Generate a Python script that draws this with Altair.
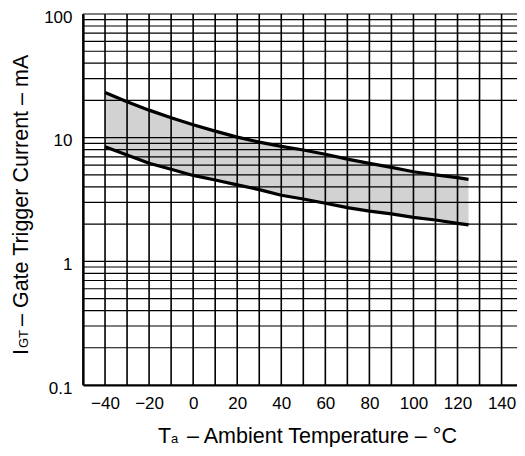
import altair as alt
import pandas as pd

# ---- data ----
temps = [-40, -30, -20, -10, 0, 10, 20, 30, 40, 50, 60, 70, 80, 90, 100, 110, 120, 125]
igt_max = [23.2, 19.5, 16.7, 14.5, 12.7, 11.3, 10.1, 9.2, 8.5, 7.95, 7.35, 6.7, 6.2, 5.75, 5.3, 5.0, 4.75, 4.6]
igt_min = [8.45, 7.25, 6.2, 5.55, 4.95, 4.55, 4.15, 3.8, 3.42, 3.19, 2.95, 2.72, 2.55, 2.42, 2.27, 2.16, 2.03, 1.97]

x_grid = list(range(-50, 150, 10))
x_label_values = [-40, -20, 0, 20, 40, 60, 80, 100, 120, 140]
y_decades = [0.1, 1, 10, 100]
y_label_texts = ["0.1", "1", "10", "100"]
y_grid = [round(d * m, 4) for d in [0.1, 1, 10] for m in range(1, 10)] + [100]
x_domain = [-50, 147]
y_domain = [0.1, 100]

x_title_main, x_title_sub, x_title_rest = "T", "a", "– Ambient Temperature – °C"
y_title_main, y_title_sub, y_title_rest = "I", "GT", "– Gate Trigger Current – mA"

W, H = 434, 371

df = pd.DataFrame({"t": temps, "hi": igt_max, "lo": igt_min})
xg = pd.DataFrame({"t": x_grid})
yg = pd.DataFrame({"hi": y_grid})

FONT = "Liberation Sans"

x_label_expr = "".join(
    f"datum.value == {v} ? format(datum.value, 'd') : " for v in x_label_values
) + "''"
y_label_expr = "".join(
    f"datum.value == {v} ? '{t}' : " for v, t in zip(y_decades, y_label_texts)
) + "''"

x_scale = alt.Scale(domain=x_domain, nice=False, zero=False)
y_scale = alt.Scale(type="log", domain=y_domain, nice=False)

x_axis = alt.Axis(
    values=x_label_values, labelExpr=x_label_expr, title=None, ticks=False, tickSize=0,
    grid=False, domainColor="black", domainWidth=2.2, labelColor="black",
    labelFontSize=17, labelFont=FONT, labelPadding=10, zindex=2,
    labelOverlap=False, labelFlush=False,
)
y_axis = alt.Axis(
    values=y_decades, labelExpr=y_label_expr, title=None, ticks=False, tickSize=0,
    grid=False, domainColor="black", domainWidth=2.2, labelColor="black",
    labelFontSize=17, labelFont=FONT, labelPadding=11, labelOffset=3, zindex=2,
    labelOverlap=False, labelFlush=False,
)

area = alt.Chart(df).mark_area(color="#d2d2d2", opacity=1).encode(
    x=alt.X("t:Q", scale=x_scale, axis=x_axis),
    y=alt.Y("hi:Q", scale=y_scale, axis=y_axis),
    y2="lo:Q",
)
vgrid = alt.Chart(xg).mark_rule(color="#000000", strokeWidth=1.6, opacity=1).encode(
    x=alt.X("t:Q", scale=x_scale, axis=x_axis),
    y=alt.value(0),
    y2=alt.value(H),
)
hgrid = alt.Chart(yg).mark_rule(color="black", strokeWidth=1.2).encode(
    y=alt.Y("hi:Q", scale=y_scale, axis=y_axis),
    x=alt.value(0),
    x2=alt.value(W),
)
lines = alt.Chart(df).transform_fold(["hi", "lo"], as_=["bound", "val"]).mark_line(
    color="black", strokeWidth=3.2
).encode(
    x=alt.X("t:Q", scale=x_scale, axis=x_axis),
    y=alt.Y("val:Q", scale=y_scale, axis=y_axis),
    detail="bound:N",
)

one = alt.Data(values=[{}])


def txt(s, size, x, y, angle=0):
    return alt.Chart(one).mark_text(
        text=s, fontSize=size, font=FONT, color="black", align="left",
        baseline="alphabetic", angle=angle,
    ).encode(x=alt.value(x), y=alt.value(y))


titles = [
    txt(x_title_main, 21.5, 75, 429),
    txt(x_title_sub, 13, 88, 429),
    txt(x_title_rest, 21.5, 104, 429),
    txt(y_title_main, 21.5, -55, 341, 270),
    txt(y_title_sub, 13, -55, 334, 270),
    txt(y_title_rest, 21.5, -55, 312, 270),
]

chart = alt.layer(area, hgrid, vgrid, lines, *titles).properties(
    width=W,
    height=H,
    padding={"left": 75, "top": 6, "right": 0, "bottom": 62},
    autosize=alt.AutoSizeParams(type="none"),
    background="white",
).configure_view(stroke=None)

chart.save("out.html", embed_options={"renderer": "svg", "actions": False})
